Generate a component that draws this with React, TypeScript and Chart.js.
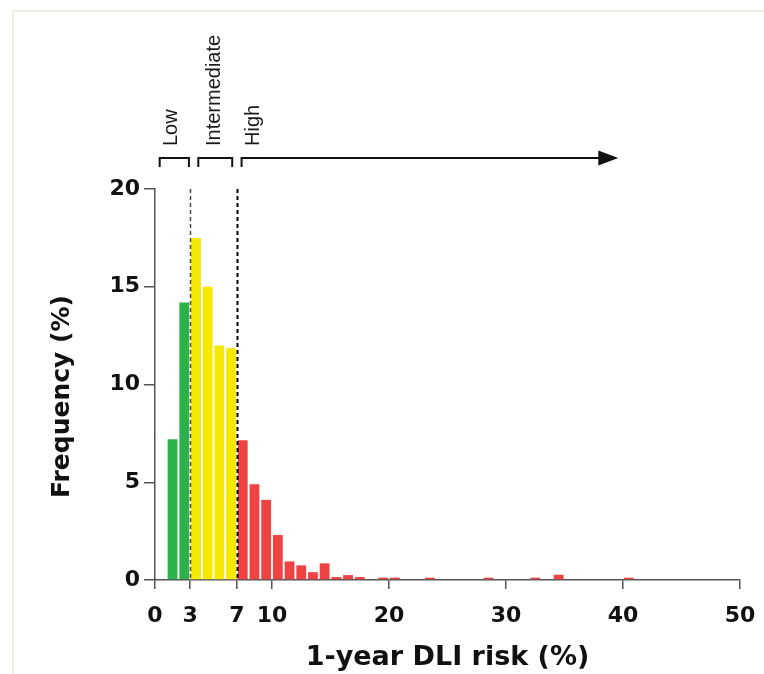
import React, { useEffect, useRef } from "react";
import { Chart, registerables } from "chart.js";

Chart.register(...registerables);

// ---- data ----
// histogram bins of 1-year DLI risk (%), each bin is [start, start + 1)
const binStart = [
  0, 1, 2, 3, 4, 5, 6, 7, 8, 9,
  10, 11, 12, 13, 14, 15, 16, 17, 18, 19,
  20, 21, 22, 23, 24, 25, 26, 27, 28, 29,
  30, 31, 32, 33, 34, 35, 36, 37, 38, 39,
  40, 41, 42, 43, 44, 45, 46, 47, 48, 49,
];
const frequency = [
  0, 7.2, 14.2, 17.5, 15.0, 12.0, 11.85, 7.15, 4.9, 4.1,
  2.3, 0.95, 0.75, 0.4, 0.85, 0.15, 0.25, 0.15, 0, 0.12,
  0.12, 0, 0, 0.12, 0, 0, 0, 0, 0.12, 0,
  0, 0, 0.12, 0, 0.27, 0, 0, 0, 0, 0,
  0.12, 0, 0, 0, 0, 0, 0, 0, 0, 0,
];
const xTickValues = [0, 3, 7, 10, 20, 30, 40, 50];
const yTickValues = [0, 5, 10, 15, 20];

const lowCutoff = 3;
const highCutoff = 7;

const bandNames = ["Low", "Intermediate", "High"];
const bandStart = [0.4, 3.7, 7.4];
const bandEnd = [2.9, 6.6, 39.6];
const bandLabelX = [1.88, 5.56, 8.85];

const yTitle = "Frequency (%)";
const xTitle = "1-year DLI risk (%)";

// ---- styles ----
const GREEN = "#2cb24a";
const YELLOW = "#f7e800";
const RED = "#ef4343";
const AXIS = "#555555";
const BOLD_FONT = "'DejaVu Sans', sans-serif";

const riskPlugin = {
  id: "riskBands",
  afterDatasetsDraw(chart: any) {
    const { ctx, chartArea } = chart;
    const xs = chart.scales.x;
    const ys = chart.scales.y;
    const topPx = ys.getPixelForValue(ys.max);
    const bottomPx = ys.getPixelForValue(0);

    ctx.save();
    // cut-off dashed lines
    const cut = [
      { v: lowCutoff, color: "#4a4a4a", w: 1.5 },
      { v: highCutoff, color: "#000000", w: 2 },
    ];
    ctx.setLineDash([4, 3]);
    cut.forEach((c) => {
      const px = Math.round(xs.getPixelForValue(c.v)) + 0.5;
      ctx.strokeStyle = c.color;
      ctx.lineWidth = c.w;
      ctx.beginPath();
      ctx.moveTo(px, topPx);
      ctx.lineTo(px, bottomPx);
      ctx.stroke();
    });
    ctx.setLineDash([]);

    // brackets and arrow
    const lineY = chartArea.top - 31;
    const dropY = lineY + 9;
    const labelBottom = chartArea.top - 43;
    ctx.strokeStyle = "#111";
    ctx.fillStyle = "#111";
    ctx.lineWidth = 2;
    ctx.lineJoin = "miter";
    bandNames.forEach((name, i) => {
      const x0 = xs.getPixelForValue(bandStart[i]);
      const x1 = xs.getPixelForValue(bandEnd[i]);
      ctx.beginPath();
      if (i < bandNames.length - 1) {
        ctx.moveTo(x0, dropY);
        ctx.lineTo(x0, lineY);
        ctx.lineTo(x1, lineY);
        ctx.lineTo(x1, dropY);
        ctx.stroke();
      } else {
        ctx.moveTo(x0, dropY);
        ctx.lineTo(x0, lineY);
        ctx.lineTo(x1 - 16, lineY);
        ctx.stroke();
        ctx.beginPath();
        ctx.moveTo(x1, lineY);
        ctx.lineTo(x1 - 20, lineY - 7.5);
        ctx.lineTo(x1 - 20, lineY + 7.5);
        ctx.closePath();
        ctx.fill();
      }
      // rotated label
      ctx.save();
      ctx.translate(xs.getPixelForValue(bandLabelX[i]), labelBottom);
      ctx.rotate(-Math.PI / 2);
      ctx.font = "20px 'Liberation Sans', Arial, sans-serif";
      ctx.fillStyle = "#1a1a1a";
      ctx.textAlign = "left";
      ctx.textBaseline = "alphabetic";
      ctx.fillText(name, 0, 0);
      ctx.restore();
    });

    // y axis title (drawn slightly below the axis centre, as in the figure)
    ctx.save();
    ctx.translate(chartArea.left - 93, (chartArea.top + chartArea.bottom) / 2 + 12);
    ctx.rotate(-Math.PI / 2);
    ctx.font = "bold 25px " + BOLD_FONT;
    ctx.fillStyle = "#111";
    ctx.textAlign = "center";
    ctx.textBaseline = "middle";
    ctx.fillText(yTitle, 0, 0);
    ctx.restore();

    ctx.restore();
  },
};

export default function App() {
  const ref = useRef<HTMLCanvasElement>(null);

  useEffect(() => {
    if (!ref.current) return;
    const points = binStart.map((b, i) => ({ x: b + 0.5, y: frequency[i] }));
    const colors = binStart.map((b) =>
      b < lowCutoff ? GREEN : b < highCutoff ? YELLOW : RED
    );
    const chart = new Chart(ref.current, {
      type: "bar",
      data: {
        datasets: [
          {
            label: "Frequency",
            data: points as any,
            backgroundColor: colors,
            borderWidth: 0,
            barPercentage: 0.84,
            categoryPercentage: 1.0,
          },
        ],
      },
      options: {
        animation: false,
        responsive: false,
        devicePixelRatio: 1,
        layout: { padding: { top: 189, right: 24, left: 0, bottom: 0 } },
        plugins: {
          legend: { display: false },
          tooltip: { enabled: false },
        },
        scales: {
          x: {
            type: "linear",
            min: 0,
            max: 50,
            offset: false,
            afterBuildTicks: (scale: any) => {
              scale.ticks = xTickValues.map((v) => ({ value: v }));
            },
            afterFit: (scale: any) => {
              scale.height = 94;
            },
            grid: {
              display: true,
              offset: false,
              drawOnChartArea: false,
              drawTicks: true,
              tickLength: 9,
              color: AXIS,
              lineWidth: 1.5,
            },
            border: { display: true, color: AXIS, width: 1.5 },
            ticks: {
              autoSkip: false,
              maxRotation: 0,
              padding: 8,
              color: "#111",
              font: { family: BOLD_FONT, size: 22, weight: "bold", lineHeight: 1.75 },
            },
            title: {
              display: true,
              text: xTitle,
              color: "#111",
              font: { family: BOLD_FONT, size: 27, weight: "bold" },
              padding: { top: 4, bottom: 0 },
            },
          },
          y: {
            type: "linear",
            min: 0,
            max: 20,
            afterBuildTicks: (scale: any) => {
              scale.ticks = yTickValues.map((v) => ({ value: v }));
            },
            afterFit: (scale: any) => {
              scale.width = 155;
            },
            grid: {
              display: true,
              drawOnChartArea: false,
              drawTicks: true,
              tickLength: 11,
              color: AXIS,
              lineWidth: 1.5,
            },
            border: { display: true, color: AXIS, width: 1.5 },
            ticks: {
              padding: 4,
              color: "#111",
              font: { family: BOLD_FONT, size: 22, weight: "bold" },
            },
            title: { display: false, text: yTitle },
          },
        },
      } as any,
      plugins: [riskPlugin],
    });
    return () => chart.destroy();
  }, []);

  return (
    <div
      style={{
        position: "absolute",
        left: 0,
        top: 0,
        width: 764,
        height: 674,
        background: "#ffffff",
        overflow: "hidden",
      }}
    >
      <div
        style={{
          position: "absolute",
          left: 12,
          top: 10,
          right: -4,
          bottom: -4,
          borderTop: "2px solid #efefe4",
          borderLeft: "2px solid #efefe4",
        }}
      />
      <canvas
        ref={ref}
        width={764}
        height={674}
        style={{ position: "absolute", left: 0, top: 0, width: 764, height: 674 }}
      />
    </div>
  );
}
